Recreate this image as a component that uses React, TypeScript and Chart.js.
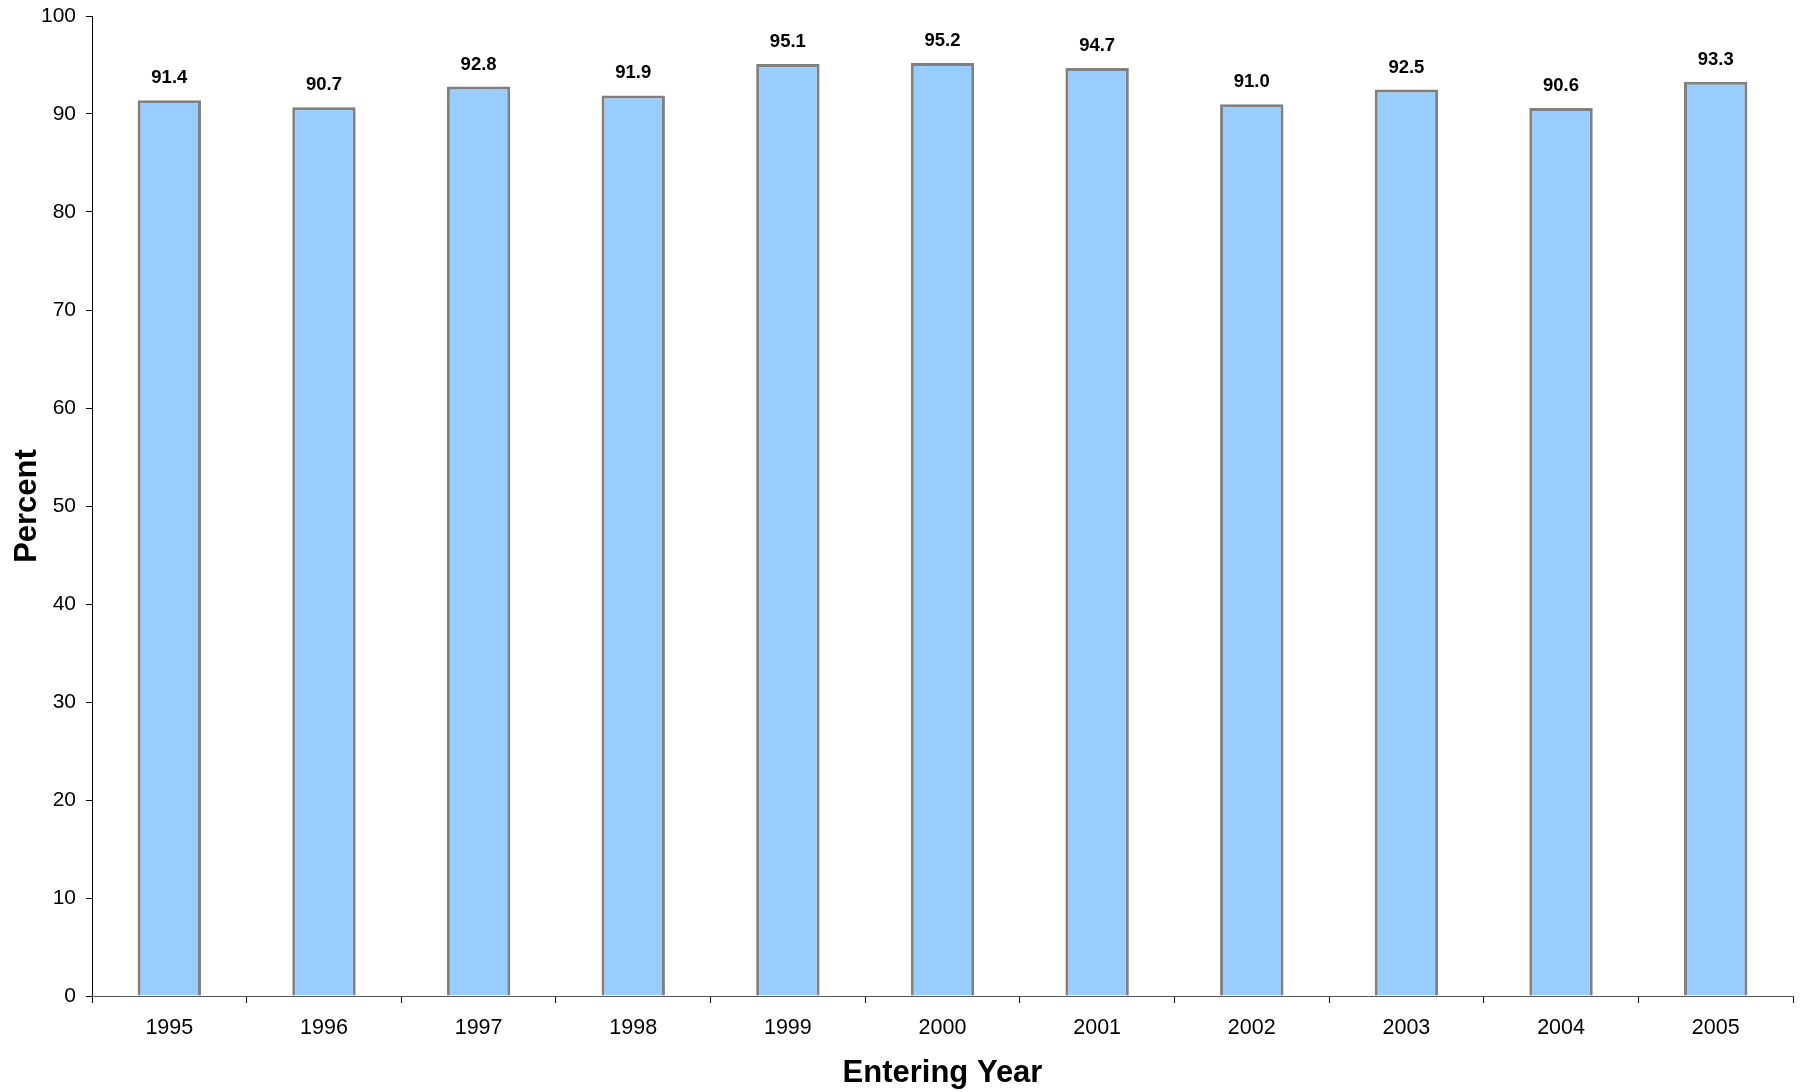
import React, { useEffect, useRef } from "react";
import { Chart, registerables } from "chart.js";

Chart.register(...registerables);

const years = ["1995", "1996", "1997", "1998", "1999", "2000", "2001", "2002", "2003", "2004", "2005"];
const percentValues = [91.4, 90.7, 92.8, 91.9, 95.1, 95.2, 94.7, 91.0, 92.5, 90.6, 93.3];
const yTickMin = 0;
const yTickMax = 100;
const yTickStep = 10;
const xTitle = "Entering Year";
const yTitle = "Percent";

const FONT = "'Liberation Sans', Arial, Helvetica, sans-serif";

const valueLabels = {
  id: "valueLabels",
  afterDatasetsDraw(chart: any) {
    const { ctx } = chart;
    const meta = chart.getDatasetMeta(0);
    ctx.save();
    ctx.font = `bold 18.5px ${FONT}`;
    ctx.fillStyle = "#000";
    ctx.textAlign = "center";
    ctx.textBaseline = "middle";
    meta.data.forEach((bar: any, i: number) => {
      const v = chart.data.datasets[0].data[i] as number;
      ctx.fillText(v.toFixed(1), bar.x, bar.y - 22);
    });
    ctx.restore();
  },
};

export default function App() {
  const ref = useRef<HTMLCanvasElement | null>(null);

  useEffect(() => {
    document.body.style.margin = "0";
    const canvas = ref.current;
    if (!canvas) return;
    const chart = new Chart(canvas, {
      type: "bar",
      data: {
        labels: years,
        datasets: [
          {
            data: percentValues,
            backgroundColor: "#99CCFF",
            borderColor: "#808080",
            borderWidth: 3,
            barPercentage: 0.41,
            categoryPercentage: 1,
          },
        ],
      },
      options: {
        responsive: false,
        animation: false,
        devicePixelRatio: 1,
        layout: { padding: { top: 16, right: 8, left: 0, bottom: 0 } },
        plugins: {
          legend: { display: false },
          tooltip: { enabled: false },
        },
        scales: {
          x: {
            grid: {
              display: true,
              drawOnChartArea: false,
              drawTicks: true,
              tickLength: 7,
              color: "#000",
              offset: true,
            },
            border: { display: true, color: "#555", width: 1 },
            ticks: {
              color: "#000",
              font: { family: FONT, size: 21.5 },
              padding: 12,
              maxRotation: 0,
            },
            title: {
              display: true,
              text: xTitle,
              color: "#000",
              font: { family: FONT, size: 31, weight: "bold" },
              padding: { top: 0, bottom: 0 },
            },
            afterFit(scale: any) {
              scale.height = 96;
              scale.paddingLeft = 0;
              scale.paddingRight = 0;
            },
          },
          y: {
            min: yTickMin,
            max: yTickMax,
            grid: {
              display: true,
              drawOnChartArea: false,
              drawTicks: true,
              tickLength: 6,
              color: "#000",
            },
            border: { display: true, color: "#000", width: 1 },
            ticks: {
              stepSize: yTickStep,
              color: "#000",
              font: { family: FONT, size: 21 },
              padding: 10,
            },
            title: {
              display: true,
              text: yTitle,
              color: "#000",
              font: { family: FONT, size: 31, weight: "bold" },
              padding: { top: 9, bottom: 0 },
            },
            afterFit(scale: any) {
              scale.width = 92;
              scale.paddingTop = 0;
              scale.paddingBottom = 0;
            },
          },
        },
      },
      plugins: [valueLabels],
    });
    return () => chart.destroy();
  }, []);

  return (
    <div style={{ width: 1801, height: 1092 }}>
      <canvas ref={ref} width={1801} height={1092} style={{ display: "block", width: 1801, height: 1092 }} />
    </div>
  );
}
